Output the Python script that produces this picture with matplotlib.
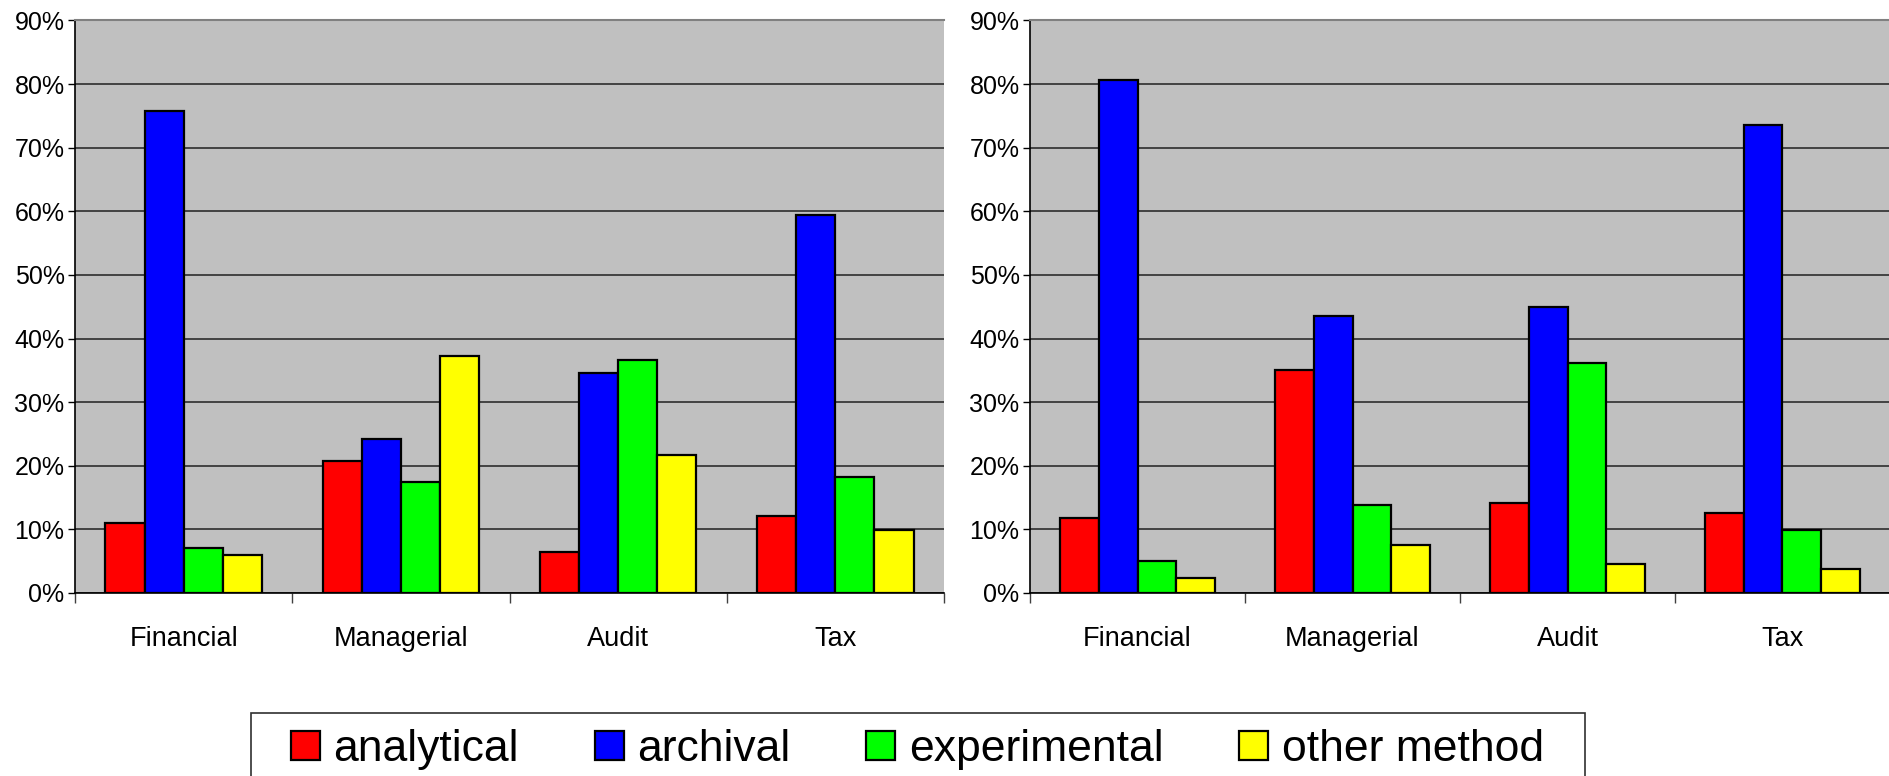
"""Research method shares by accounting area, two panels with a shared legend."""

import matplotlib
matplotlib.use("Agg")
import matplotlib.pyplot as plt
import numpy as np
from matplotlib.patches import Patch, Rectangle
from matplotlib.ticker import MultipleLocator, PercentFormatter

plt.rcParams["font.family"] = ["Liberation Sans", "DejaVu Sans"]

categories = ["Financial", "Managerial", "Audit", "Tax"]
methods = ["analytical", "archival", "experimental", "other method"]
colors = ["#FF0000", "#0000FF", "#00FF00", "#FFFF00"]

# percent values, one list per method, in category order
left_analytical = [11.0, 20.8, 6.4, 12.1]
left_archival = [75.7, 24.2, 34.6, 59.5]
left_experimental = [7.1, 17.5, 36.7, 18.2]
left_other = [6.0, 37.2, 21.7, 9.9]

right_analytical = [11.8, 35.0, 14.1, 12.6]
right_archival = [80.6, 43.5, 45.0, 73.5]
right_experimental = [5.0, 13.8, 36.2, 9.9]
right_other = [2.3, 7.6, 4.6, 3.7]

left_series = [left_analytical, left_archival, left_experimental, left_other]
right_series = [right_analytical, right_archival, right_experimental, right_other]

W, H = 1890, 776
fig = plt.figure(figsize=(W / 100, H / 100), dpi=100)


def draw_panel(ax, series):
    ax.set_facecolor("#C0C0C0")
    x = np.arange(len(categories)) + 0.5
    width = 0.18
    for i, (vals, color) in enumerate(zip(series, colors)):
        ax.bar(x + (i - 1.5) * width, vals, width, color=color,
               edgecolor="black", linewidth=1.6, zorder=3)

    ax.set_xlim(0, len(categories))
    ax.set_ylim(0, 90)
    ax.yaxis.set_major_locator(MultipleLocator(10))
    ax.yaxis.set_major_formatter(PercentFormatter(decimals=0))
    ax.grid(axis="y", color="#202020", linewidth=1.1, zorder=1)

    # category boundaries carry the ticks, labels sit at the centers
    ax.set_xticks(np.arange(len(categories) + 1))
    ax.set_xticklabels([])
    ax.set_xticks(x, minor=True)
    ax.set_xticklabels(categories, minor=True, fontsize=19.5)
    ax.tick_params(axis="x", which="major", direction="out", length=7,
                   width=1, color="#404040")
    ax.tick_params(axis="x", which="minor", length=0, pad=24)
    ax.tick_params(axis="y", direction="out", length=5, width=1,
                   labelsize=18, pad=2.5)

    for side in ("left", "bottom"):
        ax.spines[side].set_color("black")
        ax.spines[side].set_linewidth(1.2)
    ax.spines["top"].set_color("#808080")
    ax.spines["top"].set_linewidth(1.5)
    ax.spines["right"].set_visible(False)


ax1 = fig.add_axes([75 / W, 1 - 593 / H, (944 - 75) / W, (593 - 20.5) / H])
ax2 = fig.add_axes([1030 / W, 1 - 593 / H, (1890 - 1030) / W, (593 - 20.5) / H])
draw_panel(ax1, left_series)
draw_panel(ax2, right_series)

# legend frame runs off the bottom edge of the image
frame = Rectangle((251.5 / W, -0.05), (1585 - 251.5) / W, 0.05 + 1 - 713 / H,
                  transform=fig.transFigure, facecolor="white",
                  edgecolor="#303030", linewidth=1.2)
fig.patches.append(frame)

handles = [Patch(facecolor=c, edgecolor="black", linewidth=1.6) for c in colors]
leg = fig.legend(handles, methods, loc="center", ncol=4,
                 bbox_to_anchor=(917.5 / W, 1 - 749.5 / H), fontsize=32,
                 frameon=False, handlelength=0.65, handleheight=0.65,
                 handletextpad=0.3, columnspacing=1.71, borderpad=0,
                 borderaxespad=0)

fig.savefig("out.png", dpi=100, facecolor="white")
